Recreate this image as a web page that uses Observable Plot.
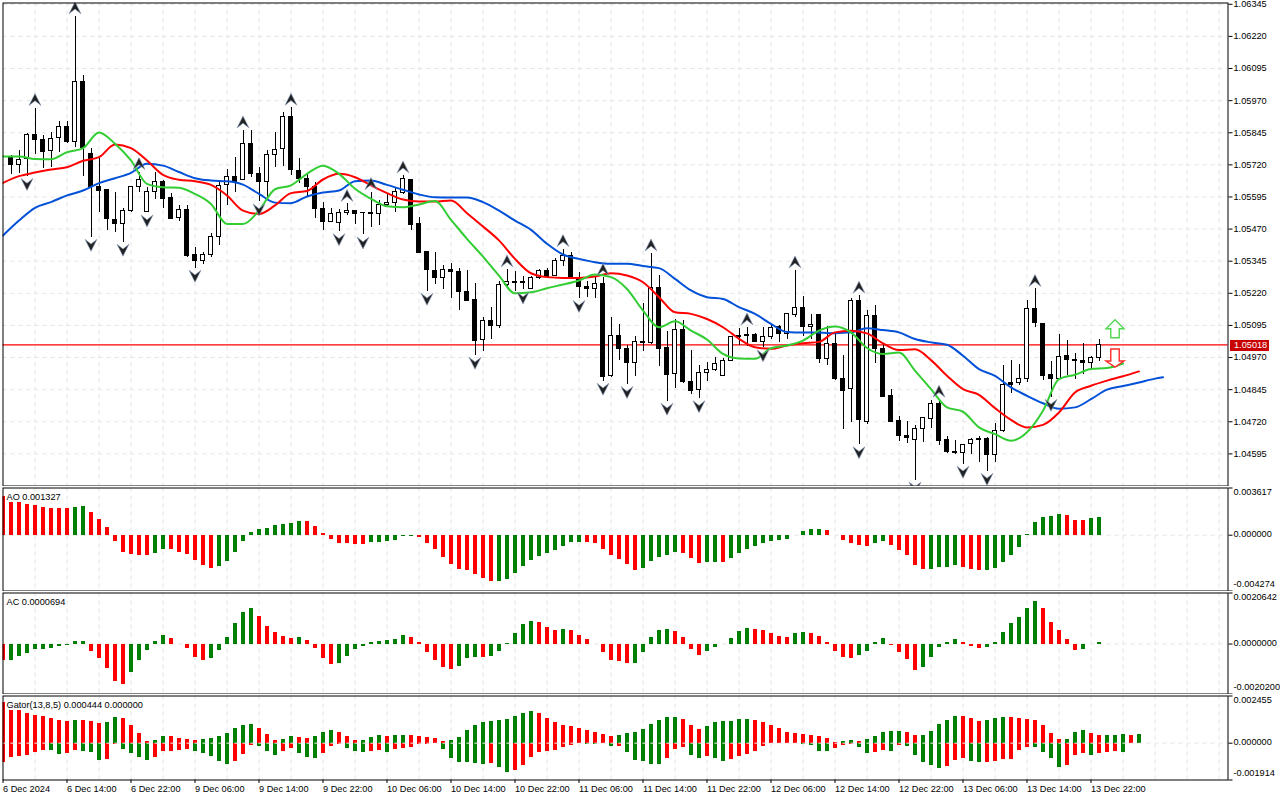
<!DOCTYPE html>
<html><head><meta charset="utf-8">
<script src="https://cdn.jsdelivr.net/npm/d3@7"></script>
<script src="https://cdn.jsdelivr.net/npm/@observablehq/plot@0.6"></script>
<style>
html,body{margin:0;padding:0;background:#fff;overflow:hidden}
#c{position:relative;width:1280px;height:800px}
#c svg{position:absolute;left:0;display:block;max-width:none}
#c svg text{-webkit-text-stroke:.2px #000}
#c svg g[fill="#fff"] text{-webkit-text-stroke:0}
</style></head><body><div id="c"></div>
<script>
// candle values in 0.00001 price points, bars 1..137
const opens=[105745,105719,105742,105837,105817,105775,105825,105868,105808,106043,105763,105632,105623,105507,105490,105540,105634,105536,105615,105654,105592,105512,105545,105370,105346,105368,105440,105642,105673,105662,105802,105685,105654,105759,105782,105907,105697,105666,105633,105549,105498,105494,105533,105542,105533,105534,105529,105564,105572,105610,105662,105488,105379,105307,105280,105311,105304,105226,105195,105037,105113,105093,105253,105265,105265,105237,105280,105307,105287,105344,105366,105280,105246,105237,105257,104897,105054,105005,104949,105031,105026,105241,105009,104906,105078,104876,104844,104910,104922,104899,104957,105054,105058,105058,105031,105050,105089,105062,105136,105163,105089,105136,104964,105023,104886,104847,105191,104721,105132,105002,104820,104723,104663,104649,104692,104731,104789,104649,104602,104598,104633,104653,104653,104590,104684,104869,104869,104886,105159,105101,104902,104886,104976,104960,104956,104947,104968];
const highs=[105756,105776,105841,105941,105834,105845,105889,105889,106298,106067,105782,105747,105623,105612,105549,105636,105692,105631,105690,105658,105610,105562,105562,105398,105380,105451,105653,105702,105749,105854,105854,105708,105776,105846,105925,105942,105743,105685,105653,105573,105549,105545,105568,105542,105533,105614,105581,105603,105633,105679,105662,105516,105379,105379,105328,105335,105315,105309,105257,105124,105163,105266,105313,105305,105285,105285,105311,105315,105354,105392,105380,105300,105267,105283,105280,105124,105098,105017,105050,105179,105375,105291,105072,105117,105114,104997,104939,104952,104970,104965,105052,105083,105087,105063,105087,105095,105095,105140,105309,105207,105137,105136,105090,105068,104977,105198,105211,105152,105172,105023,104847,104742,104720,104705,104737,104802,104806,104664,104649,104633,104656,104662,104659,104715,104938,104958,104942,105191,105237,105101,104954,105059,105038,104984,105023,104973,105040];
const lows=[105682,105688,105675,105760,105705,105711,105769,105802,105789,105676,105438,105536,105464,105458,105419,105536,105614,105533,105585,105550,105509,105501,105361,105318,105332,105361,105407,105562,105612,105659,105672,105576,105594,105711,105715,105680,105646,105597,105511,105464,105497,105460,105524,105488,105447,105477,105484,105553,105536,105605,105464,105374,105228,105254,105236,105200,105153,105189,104979,104993,105041,105084,105241,105226,105233,105233,105275,105280,105285,105326,105280,105200,105205,105200,104878,104893,104960,104865,104897,104995,105021,104936,104800,104849,104870,104828,104810,104875,104915,104896,104956,105017,105013,105027,105008,105039,105027,105040,105124,105052,105041,104948,104938,104882,104690,104716,104631,104708,104945,104815,104718,104642,104636,104493,104640,104692,104629,104598,104594,104555,104594,104561,104527,104562,104679,104830,104860,104873,105087,104880,104815,104885,104899,104885,104903,104925,104955];
const closes=[105719,105740,105837,105816,105769,105821,105868,105808,106043,105786,105633,105618,105509,105490,105541,105634,105662,105615,105654,105586,105511,105545,105367,105345,105370,105440,105638,105672,105655,105802,105685,105653,105759,105778,105907,105699,105666,105633,105547,105497,105529,105533,105541,105528,105531,105529,105564,105572,105614,105666,105485,105377,105311,105279,105311,105304,105224,105192,105034,105113,105093,105253,105265,105259,105259,105280,105307,105285,105346,105367,105280,105244,105237,105257,104896,105054,105002,104948,105031,105026,105241,105002,104901,105078,104873,104839,104910,104922,104945,104957,105050,105049,105053,105030,105050,105085,105062,105140,105163,105088,105097,104963,105023,104885,104841,105191,104725,105132,105002,104817,104721,104663,104655,104690,104733,104789,104647,104601,104597,104629,104649,104649,104589,104684,104863,104863,104886,105159,105103,104899,104885,104972,104959,104956,104947,104968,105018];

// Alligator, read every second bar
const jaw=[105445,105503,105553,105575,105601,105620,105649,105668,105689,105724,105717,105692,105668,105659,105656,105643,105607,105573,105571,105597,105612,105620,105656,105659,105642,105623,105605,105594,105593,105593,105575,105542,105503,105467,105413,105371,105354,105341,105335,105335,105326,105318,105276,105231,105205,105198,105166,105140,105101,105069,105067,105067,105065,105068,105084,105077,105068,105042,105029,105020,104977,104925,104899,104854,104821,104792,104771,104776,104808,104845,104859,104873,104888,104893];
const teeth=[105650,105676,105690,105702,105711,105736,105750,105799,105785,105737,105681,105662,105656,105642,105601,105542,105529,105562,105610,105618,105663,105685,105672,105640,105610,105585,105577,105577,105581,105532,105480,105426,105354,105298,105283,105280,105280,105285,105298,105289,105263,105205,105146,105140,105120,105088,105043,105010,105004,105017,105026,105031,105068,105074,105064,105025,104999,105002,104960,104899,104847,104825,104773,104727,104698,104708,104756,104834,104860,104880,104897,104916];
const lips=[105753,105753,105743,105742,105769,105785,105846,105802,105737,105646,105633,105631,105607,105568,105490,105490,105542,105625,105640,105685,105717,105685,105627,105588,105559,105555,105566,105579,105506,105432,105363,105289,105220,105224,105240,105254,105270,105293,105283,105237,105153,105088,105111,105075,105040,104984,104966,104965,105006,105017,105036,105075,105091,105068,105007,104984,104990,104919,104847,104776,104759,104698,104672,104646,104679,104763,104886,104903,104925,104929,104947];

// fractal bars
const upFractals=[4,9,17,30,36,43,46,50,63,70,75,81,93,99,107,117,129];
const downFractals=[3,11,15,18,24,32,42,45,53,59,65,72,75,78,83,87,95,107,114,120,123,131];

// signal arrows: bar, price
const buySignal=[{bar:139,price:1.05082}];
const sellSignal=[{bar:139,price:1.04968}];
const lastPrice=1.05018;

const priceTicks=[1.06345,1.06220,1.06095,1.05970,1.05845,1.05720,1.05595,1.05470,1.05345,1.05220,1.05095,1.04970,1.04845,1.04720,1.04595];

// AO in 1e-6
const ao=[2937,2477,2477,2324,2248,2094,2018,2018,2018,2094,2171,1711,1175,562,-485,-1354,-1507,-1583,-1583,-1430,-1124,-1124,-1354,-1507,-1967,-2350,-2580,-2426,-2043,-1354,-511,179,409,485,715,792,868,1022,1022,639,102,-358,-664,-664,-741,-741,-587,-587,-511,-434,-102,-102,-179,-664,-1124,-1737,-2273,-2656,-2733,-3039,-3346,-3576,-3576,-3422,-2963,-2426,-1967,-1660,-1430,-1200,-894,-587,-587,-587,-664,-1124,-1583,-1890,-2273,-2733,-2580,-2043,-1737,-1583,-1354,-1430,-1813,-2196,-2120,-2120,-2120,-1813,-1430,-1124,-894,-664,-511,-434,-358,-26,255,409,409,332,-26,-434,-664,-817,-894,-664,-511,-817,-1200,-1583,-2350,-2656,-2656,-2503,-2503,-2350,-2503,-2656,-2733,-2733,-2580,-2120,-1583,-971,26,945,1328,1405,1558,1481,1098,1098,1251,1327];
// runs of alternating colours, starting red
const aoRuns=[9,2,8,2,6,11,8,6,10,11,7,5,3,2,1,12,6,2,5,4,3,10,3,2];

// AC in 1e-7
const ac=[-6740,-6740,-5122,-3909,-2292,-2292,-1887,-1078,-674,944,944,-3100,-5931,-9975,-15232,-16446,-11593,-6740,-2696,944,3370,2157,-270,-1887,-5527,-6740,-5931,-2696,2561,8223,12671,14289,11054,7010,4583,2966,2157,2561,1348,-1887,-5931,-8358,-7953,-5122,-2292,-1078,539,944,1348,1752,3370,2561,539,-3505,-6740,-9571,-10380,-9166,-5931,-5527,-5527,-5122,-3100,270,4179,7818,9032,8627,6605,5392,5796,5392,3370,1752,-135,-3505,-6740,-7144,-7953,-7953,-3505,2561,5392,5796,4988,2561,-2292,-4718,-3100,-1483,-135,2157,4988,6201,5796,5392,4179,2966,2561,4179,4583,4179,2966,539,-3100,-5527,-5931,-4718,-3100,539,2157,-674,-3505,-6336,-10784,-9571,-5527,-1483,539,1752,539,-1078,-1887,-1483,539,4583,8223,10649,14289,17120,14289,8627,5392,1752,-2696,-2292,-135,694];
const acRuns=[1,10,5,5,5,6,5,1,4,9,6,3,1,6,3,1,8,5,4,6,5,2,6,4,4,5,3,7,5,3];

// Gator in 1e-6
const gatorUp=[2115,1682,1682,1526,1422,1370,1266,1162,1110,1162,1162,1110,1006,1058,1318,1266,902,486,69,121,329,329,225,173,121,173,225,329,486,746,902,954,746,433,121,173,329,277,225,329,538,642,538,329,121,121,277,381,329,381,381,381,329,277,225,69,121,277,642,902,1058,1110,1162,1214,1370,1526,1630,1526,1266,1058,902,850,746,642,538,433,329,381,486,538,694,954,1162,1318,1318,1214,902,694,850,1058,1110,1110,1214,1214,1162,1058,902,746,538,486,433,381,329,225,17,69,121,69,173,329,538,590,590,538,381,381,590,954,1162,1370,1370,1266,1110,1162,1266,1318,1318,1266,1214,1162,902,486,173,173,538,642,486,381,381,381,433,381,444];
const gatorDown=[-1006,-763,-711,-659,-503,-399,-399,-607,-555,-399,-451,-503,-919,-867,-52,-347,-555,-763,-919,-763,-451,-451,-399,-347,-451,-555,-711,-971,-1127,-971,-607,-139,-191,-451,-659,-451,-295,-555,-763,-815,-555,-191,-87,-295,-451,-503,-451,-399,-503,-347,-295,-243,-87,-52,-35,-347,-815,-1023,-1023,-1075,-1127,-1075,-1283,-1543,-1439,-1179,-763,-503,-451,-399,-243,-139,-35,-87,-87,-17,-191,-191,-503,-919,-971,-1127,-1127,-815,-347,-243,-659,-815,-711,-815,-971,-867,-711,-607,-451,-191,-35,-17,-35,-17,-87,-139,-451,-451,-295,-139,-87,-243,-555,-503,-399,-451,-139,-191,-659,-1023,-1179,-1335,-1231,-919,-815,-971,-1023,-1023,-971,-867,-867,-399,-243,-243,-503,-815,-1283,-1179,-659,-555,-659,-555,-503,-451,-503,0,0];
const gatorUpRuns=[9,1,3,2,4,2,4,7,3,2,2,3,3,3,1,2,5,11,10,8,3,6,11,2,1,5,2,5,3,3,7,3,2,3,1,1];
const gatorDownRuns=[6,2,2,3,2,4,5,5,3,3,2,3,3,3,2,1,6,6,1,2,9,2,1,1,1,5,3,2,1,2,9,4,3,2,2,1,1,5,3,2,6,4,3,1,3,1,2];

const timeTicks=[0,8,16,24,32,40,48,56,64,72,80,88,96,104,112,120,128,136];
const timeLabels=["6 Dec 2024","6 Dec 14:00","6 Dec 22:00","9 Dec 06:00","9 Dec 14:00","9 Dec 22:00","10 Dec 06:00","10 Dec 14:00","10 Dec 22:00","11 Dec 06:00","11 Dec 14:00","11 Dec 22:00","12 Dec 06:00","12 Dec 14:00","12 Dec 22:00","13 Dec 06:00","13 Dec 14:00","13 Dec 22:00"];

const RED="#ff0000",GREEN="#008000",BLUE_LINE="#0050d8",RED_LINE="#ff0000",GREEN_LINE="#32cd32",GRID="#e4e4e4";
const FONT="'Liberation Sans',Arial,sans-serif",FS=9.2;
const colors=runs=>runs.flatMap((n,k)=>Array(n).fill(k%2?GREEN:RED));
const pct=v=>v/1e5;
const xDomain=[0,153.125], gridBars=d3.range(4,153,4);

// arrow symbols, radius taken from the dot's r
const radius=s=>Math.sqrt(s/Math.PI);
const fractalUp={draw(c,s){const r=radius(s);c.moveTo(0,-r);c.lineTo(r,r);c.lineTo(0,r*0.2);c.lineTo(-r,r);c.closePath();}};
const fractalDown={draw(c,s){const r=radius(s);c.moveTo(0,r);c.lineTo(r,-r);c.lineTo(0,-r*0.2);c.lineTo(-r,-r);c.closePath();}};
const bigUp={draw(c,s){const r=radius(s);const w=r*.47;c.moveTo(0,-r);c.lineTo(r,0);c.lineTo(w,0);c.lineTo(w,r);c.lineTo(-w,r);c.lineTo(-w,0);c.lineTo(-r,0);c.closePath();}};
const bigDown={draw(c,s){const r=radius(s);const w=r*.47,h=r*.33;c.moveTo(0,r);c.lineTo(r,h);c.lineTo(w,h);c.lineTo(w,-r);c.lineTo(-w,-r);c.lineTo(-w,h);c.lineTo(-r,h);c.closePath();}};

const base=(o)=>({width:1280,marginLeft:2.5,marginRight:52.5,marginTop:1.5,marginBottom:.5,
  x:{domain:xDomain,axis:null},color:{type:"identity"},
  style:{fontFamily:FONT,fontSize:FS+"px",background:"transparent",color:"#000"},...o});

const place=(svg,top)=>{svg.style.top=top+"px";document.getElementById("c").appendChild(svg);};

// main chart
const bars=d3.range(1,138).map((bar,k)=>({bar,o:pct(opens[k]),h:pct(highs[k]),l:pct(lows[k]),c:pct(closes[k])}));
if(opens.length!==137||highs.length!==137||lows.length!==137||closes.length!==137) throw new Error("ohlc "+[opens.length,highs.length,lows.length,closes.length]);
const byBar=new Map(bars.map(d=>[d.bar,d]));
const series=(vals,idx)=>vals.map((v,k)=>({bar:idx[k],v:pct(v)}));
const jawS=series(jaw,[...d3.range(0,145,2),145]),teethS=series(teeth,d3.range(0,143,2)),lipsS=series(lips,d3.range(0,141,2));
if(jaw.length!==74||teeth.length!==72||lips.length!==71) throw new Error("lines "+[jaw.length,teeth.length,lips.length]);

place(Plot.plot(base({height:486,marginTop:2.5,
  y:{domain:[1.04470,1.06350],axis:null},
  marks:[
    Plot.ruleX(gridBars,{stroke:GRID,strokeDasharray:"4,4"}),
    Plot.ruleY(priceTicks,{stroke:GRID,strokeDasharray:"4,4"}),
    Plot.ruleY([lastPrice],{stroke:"red",strokeWidth:1.2,dy:-.4}),
    Plot.ruleX(bars,{x:"bar",y1:"l",y2:"h",stroke:"#000",strokeWidth:1,shapeRendering:"crispEdges",clip:true}),
    Plot.rect(bars,{x1:d=>d.bar-.25,x2:d=>d.bar+.25,y1:"o",y2:"c",fill:d=>d.c>d.o?"#fff":"#000",stroke:"#000",strokeWidth:1,shapeRendering:"crispEdges",clip:true}),
    Plot.line(jawS,{x:"bar",y:"v",stroke:BLUE_LINE,strokeWidth:2,curve:"monotone-x",clip:true}),
    Plot.line(teethS,{x:"bar",y:"v",stroke:RED_LINE,strokeWidth:2,curve:"monotone-x",clip:true}),
    Plot.line(lipsS,{x:"bar",y:"v",stroke:GREEN_LINE,strokeWidth:2,curve:"monotone-x",clip:true}),
    Plot.dot(upFractals.map(b=>byBar.get(b)),{x:"bar",y:"h",dy:-8.5,r:6,symbol:fractalUp,fill:"#222",stroke:"#8aa0c0",strokeWidth:.6,clip:true}),
    Plot.dot(downFractals.map(b=>byBar.get(b)),{x:"bar",y:"l",dy:8,r:6,symbol:fractalDown,fill:"#222",stroke:"#8aa0c0",strokeWidth:.6,clip:true}),
    Plot.dot(buySignal,{x:"bar",y:"price",r:9,symbol:bigUp,fill:"#fff",stroke:"#50d850",strokeWidth:1.4}),
    Plot.dot(sellSignal,{x:"bar",y:"price",r:9,symbol:bigDown,fill:"#fff",stroke:"#ff2a2a",strokeWidth:1.4}),
    Plot.axisY(priceTicks,{anchor:"right",tickSize:4,tickPadding:1.5,label:null,tickFormat:d=>d.toFixed(5)}),
    Plot.ruleY([lastPrice],{x1:153.4,x2:158.3,stroke:"#c80000",strokeWidth:11,shapeRendering:"crispEdges"}),
    Plot.text([lastPrice],{y:d=>d,frameAnchor:"right",textAnchor:"start",dx:6,fill:"#fff",text:d=>d.toFixed(5)}),
    Plot.frame({stroke:"#000"})
  ]})),0);

// oscillator panels
function panel(cfg){
  const {height,top,marginBottom=.5,domain,labels,title,zeroOnTop,extra}=cfg;
  const [mn,mx]=domain;
  return place(Plot.plot(base({height,marginBottom,
    y:{domain,axis:null},
    marks:[
      Plot.ruleX(gridBars,{stroke:GRID,strokeDasharray:"4,4"}),
      Plot.ruleY([0],{stroke:GRID,strokeDasharray:"4,4"}),
      ...cfg.hist.map(h=>Plot.ruleX(h.vals.map((v,k)=>({bar:k,v,col:h.colors[k]})),{x:"bar",y1:0,y2:"v",stroke:"col",strokeWidth:4,dx:-.5,shapeRendering:"crispEdges",clip:true})),
      ...(zeroOnTop?[Plot.ruleY([0],{stroke:"#f4f4f4",strokeDasharray:"4,4"})]:[]),
      Plot.axisY([mn,0,mx],{anchor:"right",tickSize:4,label:null,tickFormat:()=>""}),
      Plot.text([mx],{y:d=>d,frameAnchor:"right",textAnchor:"start",dx:5.5,dy:4,text:()=>labels[0]}),
      Plot.text([0],{y:d=>d,frameAnchor:"right",textAnchor:"start",dx:5.5,dy:-1,text:()=>labels[1]}),
      Plot.text([mn],{y:d=>d,frameAnchor:"right",textAnchor:"start",dx:5.5,dy:-6.5,text:()=>labels[2]}),
      Plot.text([title],{frameAnchor:"top-left",textAnchor:"start",lineAnchor:"middle",dx:3.5,dy:9}),
      ...(extra||[]),
      Plot.frame({stroke:"#000"})
    ]})),top);
}
const check=(n,a,b)=>{if(a.length!==b.length) throw new Error(n+" "+a.length+" "+b.length);};
check("ao",ao,colors(aoRuns));check("ac",ac,colors(acRuns));check("gu",gatorUp,colors(gatorUpRuns));check("gd",gatorDown,colors(gatorDownRuns));

panel({height:105,top:486,domain:[-0.004274,0.003617],labels:["0.003617","0.000000","-0.004274"],title:"AO 0.001327",
  hist:[{vals:ao.map(v=>v/1e6),colors:colors(aoRuns)}]});
panel({height:103,top:591,domain:[-0.00202,0.0020642],labels:["0.0020642","0.0000000","-0.0020200"],title:"AC 0.0000694",
  hist:[{vals:ac.map(v=>v/1e7),colors:colors(acRuns)}]});
panel({height:106,top:694,marginBottom:20.5,domain:[-0.001914,0.002455],labels:["0.002455","0.000000","-0.001914"],title:"Gator(13,8,5) 0.000444 0.000000",zeroOnTop:true,
  hist:[{vals:gatorUp.map(v=>v/1e6),colors:colors(gatorUpRuns)},{vals:gatorDown.map(v=>v/1e6),colors:colors(gatorDownRuns)}],
  extra:[Plot.axisX(timeTicks,{anchor:"bottom",tickSize:3.5,tickPadding:2,label:null,textAnchor:"start",tickFormat:d=>timeLabels[timeTicks.indexOf(d)]})]});
</script></body></html>
